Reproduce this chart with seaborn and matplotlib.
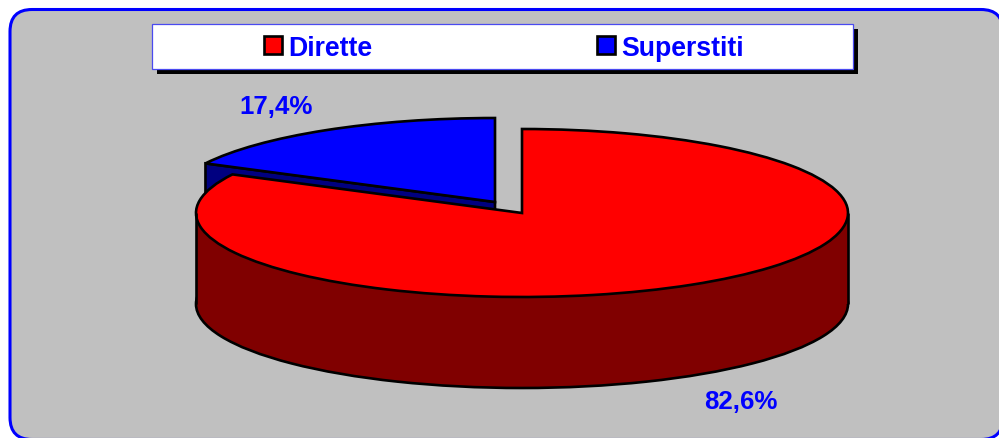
import matplotlib
matplotlib.use("Agg")
import matplotlib.pyplot as plt
from matplotlib.patches import FancyBboxPatch, Rectangle
import numpy as np
import seaborn as sns

categories = ["Dirette", "Superstiti"]
shares = [82.6, 17.4]
top_colors = ["#ff0000", "#0000ff"]
side_colors = ["#800000", "#000080"]

sns.set_theme(style="white")
plt.rcParams["font.family"] = ["Liberation Sans", "DejaVu Sans"]

W, H = 999, 439
fig = plt.figure(figsize=(W / 100, H / 100), dpi=100, facecolor="white")

# pixel-space axes for the panel and legend box
bg = fig.add_axes([0, 0, 1, 1], zorder=0)
bg.set_xlim(0, W)
bg.set_ylim(H, 0)
bg.axis("off")
bg.add_patch(FancyBboxPatch((10, 10.5), 993, 430, boxstyle="round,pad=0,rounding_size=22",
                            fc="#c0c0c0", ec="#0000ff", lw=2.2, clip_on=False))
bg.add_patch(Rectangle((157, 29.5), 701, 45, fc="black", ec="none"))
bg.add_patch(Rectangle((152, 24.5), 701, 45, fc="white", ec="#4a4af0", lw=0.9))

# pie axes: one data unit equals the ellipse radius
RX, RY, DEPTH = 326, 84, 91
CX, CY = 522, 214
BX, BY = 495, 203
ax = fig.add_axes([0, 0, 1, 1], zorder=1)
ax.patch.set_alpha(0)
edge = dict(edgecolor="black", linewidth=1.9)
start = 90


def pie(values, center, colors, only=None):
    wedges, _ = ax.pie(values, startangle=start, counterclock=False, colors=colors, radius=1,
                       center=center, wedgeprops=edge, frame=False)
    for i, w in enumerate(wedges):
        if only is not None and i != only:
            w.set_visible(False)
    return wedges


d = DEPTH / RY
bcx, bcy = (BX - CX) / RX, (CY - BY) / RY
blue_end = np.radians(start + 360 * shares[1] / sum(shares))
rim_x, rim_y = np.cos(blue_end), np.sin(blue_end)

# blue slice: cut face, then top
ax.fill([bcx + rim_x, bcx, bcx, bcx + rim_x],
        [bcy + rim_y, bcy, bcy - d, bcy + rim_y - d],
        facecolor=side_colors[1], **edge)
pie(shares, (bcx, bcy), top_colors, only=1)

# red slice: wall (the whole rim), then top
pie([sum(shares)], (0, -d), side_colors[:1])
ax.fill_between([-1, 1], -d, 0, color=side_colors[0], lw=0)
ax.vlines([-1, 1], -d, 0, color="black", lw=1.9)
red = pie(shares, (0, 0), top_colors, only=0)

ax.set_aspect("auto")
ax.set_xlim(-CX / RX, (W - CX) / RX)
ax.set_ylim((CY - H) / RY, CY / RY)
ax.axis("off")

font = dict(fontsize=18.6, fontweight="bold", color="#0000ff", ha="center", va="center")
for share, (x, y) in zip(shares, [(740.5, 402), (276.5, 107)]):
    ax.text(x, y, f"{share:.1f}%".replace(".", ","), transform=bg.transData, **font)

handles = [red[0], Rectangle((0, 0), 1, 1, fc=top_colors[1], ec="black", lw=1.9)]
leg = ax.legend(handles, categories, loc="center", bbox_to_anchor=(504, 48.5),
                bbox_transform=bg.transData, ncols=2, frameon=False,
                prop=dict(size=19.2, weight="bold"), labelcolor="#0000ff",
                handlelength=0.68, handleheight=0.68, handletextpad=0.24,
                columnspacing=8.4, borderpad=0, borderaxespad=0)

fig.savefig("out.png", dpi=100)
